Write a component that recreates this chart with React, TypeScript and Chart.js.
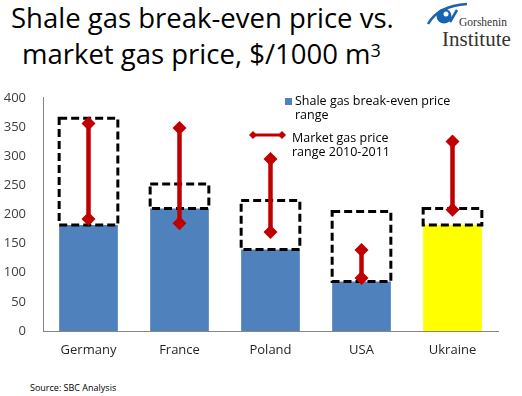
import React, { useEffect, useRef } from 'react';
import { Chart, registerables } from 'chart.js';

Chart.register(...registerables);

const categories = ['Germany', 'France', 'Poland', 'USA', 'Ukraine'];
const breakEvenLow = [182, 210, 140, 85, 182];
const breakEvenHigh = [365, 252, 224, 205, 210];
const marketHigh = [356, 348, 295, 139, 325];
const marketLow = [192, 185, 170, 91, 208];
const barColors = ['#4F81BD', '#4F81BD', '#4F81BD', '#4F81BD', '#FFFF00'];
const yMin = 0;
const yMax = 400;
const yStep = 50;

const FONT = '"Open Sans", "DejaVu Sans", sans-serif';

const dashedBoxes = {
  id: 'dashedBoxes',
  afterDatasetDraw(chart: any, args: any) {
    if (args.index !== 1) return;
    const meta = chart.getDatasetMeta(1);
    const ctx = chart.ctx;
    ctx.save();
    ctx.setLineDash([8, 4]);
    ctx.lineWidth = 3;
    ctx.strokeStyle = '#000000';
    meta.data.forEach((bar: any) => {
      const p = bar.getProps(['x', 'y', 'base', 'width'], true);
      const top = Math.min(p.y, p.base);
      ctx.strokeRect(p.x - p.width / 2, top, p.width, Math.abs(p.base - p.y));
    });
    ctx.restore();
  },
};

export default function App() {
  const ref = useRef<HTMLCanvasElement>(null);

  useEffect(() => {
    if (!ref.current) return;
    const marketPoints = categories.flatMap((c, i) => [
      { x: c, y: marketHigh[i] },
      { x: c, y: marketLow[i] },
      { x: c, y: null },
    ]);
    const chart = new Chart(ref.current, {
      type: 'bar',
      data: {
        labels: categories,
        datasets: [
          {
            type: 'bar',
            label: 'Shale gas break-even price range',
            data: breakEvenLow,
            backgroundColor: barColors,
            borderWidth: 0,
            grouped: false,
            categoryPercentage: 1,
            barPercentage: 0.645,
            order: 2,
          } as any,
          {
            type: 'bar',
            label: 'range',
            data: categories.map((c, i) => [breakEvenLow[i], breakEvenHigh[i]]),
            backgroundColor: 'rgba(0,0,0,0)',
            borderWidth: 0,
            grouped: false,
            categoryPercentage: 1,
            barPercentage: 0.645,
            order: 1,
          } as any,
          {
            type: 'line',
            label: 'Market gas price range 2010-2011',
            data: marketPoints,
            borderColor: '#C00000',
            backgroundColor: '#C00000',
            borderWidth: 4.5,
            pointStyle: 'rectRot',
            pointRadius: 7,
            pointBorderWidth: 0,
            spanGaps: false,
            order: 0,
          } as any,
        ],
      },
      options: {
        animation: false,
        responsive: false,
        maintainAspectRatio: false,
        layout: { padding: { top: 10, right: 5, left: 0, bottom: 0 } },
        plugins: {
          legend: { display: false },
          tooltip: { enabled: false },
          title: { display: false },
        },
        scales: {
          x: {
            grid: { display: false },
            border: { display: true, color: '#868686', width: 1 },
            ticks: { font: { family: FONT, size: 13 }, color: '#262626', padding: 3 },
            afterFit: (s: any) => { s.height = 31; },
          },
          y: {
            min: yMin,
            max: yMax,
            grid: { display: false },
            border: { display: true, color: '#868686', width: 1 },
            ticks: { stepSize: yStep, font: { family: FONT, size: 13 }, color: '#404040', padding: 9 },
            afterFit: (s: any) => { s.width = 43; },
          },
        },
      },
      plugins: [dashedBoxes],
    });
    return () => chart.destroy();
  }, []);

  return (
    <div style={{ position: 'fixed', left: 0, top: 0, width: 522, height: 396, background: '#fff', overflow: 'hidden', fontFamily: FONT }}>
      <div style={{ position: 'absolute', left: 11, top: 0, fontSize: 27.5, lineHeight: '36px', color: '#000', whiteSpace: 'nowrap' }}>
        Shale gas break-even price vs.
      </div>
      <div style={{ position: 'absolute', left: 22, top: 36, fontSize: 27.5, lineHeight: '36px', color: '#000', whiteSpace: 'nowrap' }}>
        market gas price, $/1000 m<sup style={{ fontSize: 18, verticalAlign: 'top', position: 'relative', top: -4 }}>3</sup>
      </div>
      <svg style={{ position: 'absolute', left: 420, top: 0 }} width={60} height={30}>
        <path d="M8 24 Q 18 6 47 4" stroke="#1d62aa" strokeWidth={2.5} fill="none" />
        <circle cx={24} cy={16} r={7.5} fill="#1464b4" />
        <circle cx={26} cy={14} r={2.5} fill="#ffffff" />
        <path d="M30 22 L 37 10" stroke="#1464b4" strokeWidth={2.5} />
      </svg>
      <div style={{ position: 'absolute', left: 459, top: 16, fontSize: 11.5, fontFamily: '"Liberation Serif", "DejaVu Serif", serif', color: '#333', whiteSpace: 'nowrap' }}>
        Gorshenin
      </div>
      <div style={{ position: 'absolute', left: 442, top: 27, fontSize: 21, fontFamily: '"Liberation Serif", "DejaVu Serif", serif', color: '#333', whiteSpace: 'nowrap', lineHeight: '24px' }}>
        Institute
      </div>
      <canvas ref={ref} width={505} height={281} style={{ position: 'absolute', left: 0, top: 81, width: 505, height: 281 }} />
      <div style={{ position: 'absolute', left: 285, top: 98, width: 7, height: 7, background: '#4F81BD' }} />
      <div style={{ position: 'absolute', left: 295, top: 94, fontSize: 12.5, lineHeight: '14px', color: '#000', whiteSpace: 'nowrap' }}>
        Shale gas break-even price<br />range
      </div>
      <svg style={{ position: 'absolute', left: 248, top: 128 }} width={40} height={14}>
        <line x1={5} y1={7} x2={34} y2={7} stroke="#C00000" strokeWidth={3} />
        <path d="M5 3 L9 7 L5 11 L1 7 Z" fill="#C00000" />
        <path d="M34 3 L38 7 L34 11 L30 7 Z" fill="#C00000" />
      </svg>
      <div style={{ position: 'absolute', left: 292, top: 131, fontSize: 12.5, lineHeight: '14px', color: '#000', whiteSpace: 'nowrap' }}>
        Market gas price<br />range 2010-2011
      </div>
      <div style={{ position: 'absolute', left: 30, top: 381, fontSize: 9, color: '#000', whiteSpace: 'nowrap' }}>
        Source: SBC Analysis
      </div>
    </div>
  );
}
